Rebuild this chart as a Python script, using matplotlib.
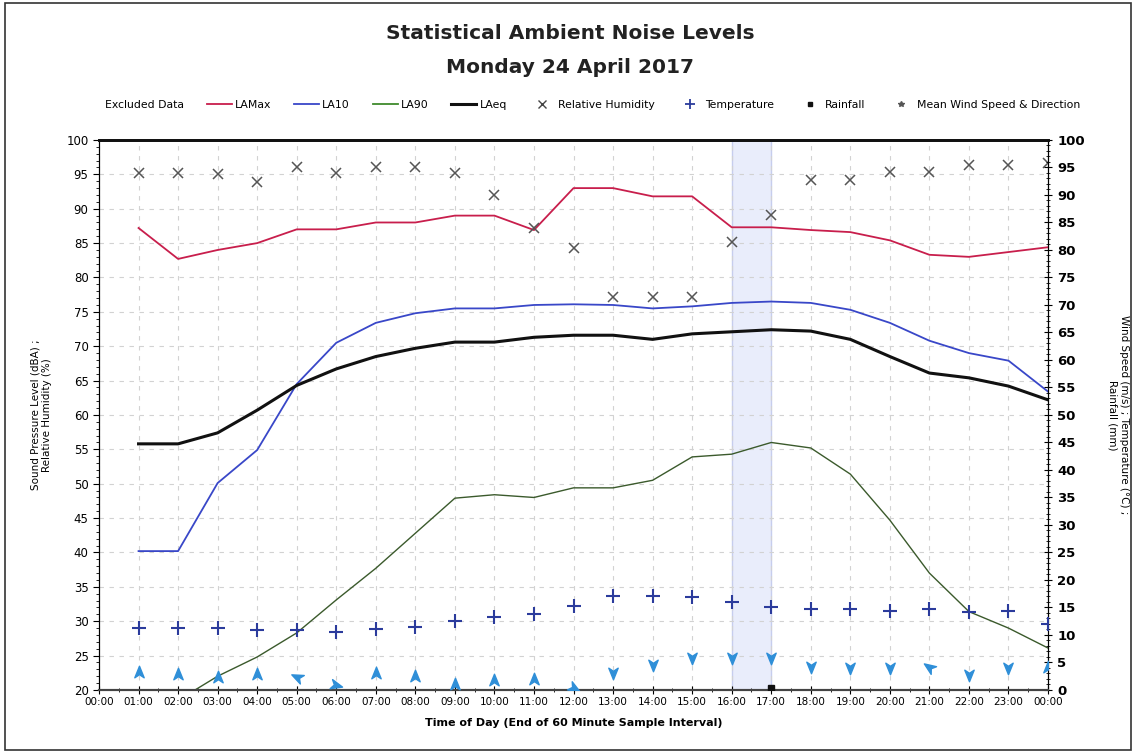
import matplotlib
matplotlib.use("Agg")
import matplotlib.pyplot as plt
import numpy as np
from matplotlib.lines import Line2D
from matplotlib.patches import Patch, Rectangle
from matplotlib.markers import MarkerStyle
from matplotlib.path import Path
from matplotlib.transforms import Affine2D
from matplotlib.ticker import MultipleLocator

# hour at end of each 60 minute interval (01:00 ... 24:00)
hours = list(range(1, 25))
hour_labels = ["%02d:00" % (h % 24) for h in range(25)]

la_max = [87.2, 82.7, 84.0, 85.0, 87.0, 87.0, 88.0, 88.0, 89.0, 89.0, 86.9, 93.0,
          93.0, 91.8, 91.8, 87.3, 87.3, 86.9, 86.6, 85.4, 83.3, 83.0, 83.7, 84.4]
la10 = [40.2, 40.2, 50.1, 54.9, 64.5, 70.5, 73.4, 74.8, 75.5, 75.5, 76.0, 76.1,
        76.0, 75.5, 75.8, 76.3, 76.5, 76.3, 75.3, 73.4, 70.8, 69.0, 67.9, 63.4]
la90 = [17.0, 18.5, 22.0, 24.8, 28.3, 33.1, 37.7, 42.8, 47.9, 48.4, 48.0, 49.4,
        49.4, 50.5, 53.9, 54.3, 56.0, 55.2, 51.4, 44.7, 37.0, 31.4, 29.0, 26.1]
la_eq = [55.8, 55.8, 57.4, 60.7, 64.3, 66.7, 68.5, 69.7, 70.6, 70.6, 71.3, 71.6,
         71.6, 71.0, 71.8, 72.1, 72.4, 72.2, 71.0, 68.5, 66.1, 65.4, 64.2, 62.2]
humidity = [95.2, 95.2, 95.1, 93.9, 96.1, 95.2, 96.0, 96.0, 95.2, 92.0, 87.2, 84.3,
            77.2, 77.2, 77.2, 85.2, 89.1, 94.2, 94.2, 95.3, 95.3, 96.4, 96.4, 96.6]
temperature = [11.3, 11.3, 11.3, 10.9, 10.9, 10.5, 11.0, 11.5, 12.5, 13.2, 13.9, 15.3,
               17.1, 17.1, 16.9, 16.0, 15.1, 14.8, 14.8, 14.4, 14.7, 14.2, 14.3, 12.0]
rainfall = [np.nan] * 16 + [0.3] + [np.nan] * 7
wind_speed = [3.3, 2.9, 2.4, 2.9, 2.4, 0.9, 3.1, 2.5, 1.1, 1.8, 2.0, 0.3,
              3.1, 4.5, 5.8, 5.8, 5.8, 4.2, 4.0, 4.0, 4.2, 2.7, 4.0, 4.2]
# direction the arrow points, degrees clockwise from up
wind_arrow = [0, 0, 0, 0, 295, 105, 0, 0, 0, 0, 0, 120,
              180, 180, 180, 180, 180, 180, 180, 180, 305, 180, 180, 0]
excluded = (16, 17)

fig = plt.figure(figsize=(11.34, 7.53), dpi=100)
ax1 = fig.add_axes([0.0873, 0.0837, 0.8369, 0.7304])
ax2 = ax1.twinx()

ax1.axvspan(excluded[0], excluded[1], color="#e9edfb", zorder=0, lw=0)
ax1.axvline(excluded[0], color="#c6cdee", lw=1, zorder=0)
ax1.axvline(excluded[1], color="#c6cdee", lw=1, zorder=0)

ax1.plot(hours, la_max, color="#c81e4c", lw=1.3, zorder=4)
ax1.plot(hours, la10, color="#3947c8", lw=1.3, zorder=4)
ax1.plot(hours, la90, color="#3b5a2c", lw=1.0, zorder=4)
ax1.plot(hours, la_eq, color="#111111", lw=2.2, zorder=4)
ax1.plot(hours, humidity, ls="none", marker="x", ms=7, mew=1.1, color="#555555", zorder=5)

ax2.plot(hours, temperature, ls="none", marker="+", ms=10, mew=1.5, color="#2b3b9c", zorder=5)
ax2.plot(hours, rainfall, ls="none", marker="s", ms=4, color="#111111", zorder=6)

arrow = Path([(0, 1), (0.75, -0.85), (0, -0.35), (-0.75, -0.85), (0, 1)],
             [Path.MOVETO, Path.LINETO, Path.LINETO, Path.LINETO, Path.CLOSEPOLY])
for h, s, a in zip(hours, wind_speed, wind_arrow):
    m = MarkerStyle(arrow, transform=Affine2D().rotate_deg(-a))
    ax2.plot([h], [s], ls="none", marker=m, ms=9, color="#2f8fd8", mec="#2f8fd8", zorder=6)

ax1.set_xlim(0, 24)
ax1.set_ylim(20, 100)
ax2.set_ylim(0, 100)
ax1.set_xticks(range(25))
ax1.set_xticklabels(hour_labels, fontsize=7.5)
ax1.xaxis.set_minor_locator(MultipleLocator(0.5))
ax1.yaxis.set_major_locator(MultipleLocator(5))
ax1.yaxis.set_minor_locator(MultipleLocator(1))
ax2.yaxis.set_major_locator(MultipleLocator(5))
ax2.yaxis.set_minor_locator(MultipleLocator(1))
ax1.tick_params(axis="y", labelsize=8.5, direction="out", length=4, width=0.8)
ax1.tick_params(axis="y", which="minor", length=2, width=0.6)
ax2.tick_params(axis="y", labelsize=9.5, direction="inout", length=6, width=0.8)
ax2.tick_params(axis="y", which="minor", direction="inout", length=3, width=0.6)
ax1.tick_params(axis="x", direction="inout", length=6, width=0.8, pad=2)
ax1.tick_params(axis="x", which="minor", direction="inout", length=3, width=0.6)
for lab in ax2.get_yticklabels():
    lab.set_fontweight("bold")

ax1.grid(True, which="major", color="#d2d2d2", ls=(0, (4, 5)), lw=0.8)
ax1.set_axisbelow(True)
for ax in (ax1, ax2):
    ax.spines["top"].set_linewidth(2.0)
    ax.spines["top"].set_color("#111111")
    ax.spines["bottom"].set_color("#444444")
    ax.spines["bottom"].set_linewidth(1.5)

ax1.set_ylabel("Sound Pressure Level (dBA) ;\nRelative Humidity (%)", fontsize=7.5, labelpad=10)
ax2.set_ylabel("Wind Speed (m/s) ; Temperature (°C) ;\nRainfall (mm)", fontsize=7.5,
               rotation=270, labelpad=32)
ax1.set_xlabel("Time of Day (End of 60 Minute Sample Interval)", fontsize=8, fontweight="bold", labelpad=8)

fig.text(0.503, 0.956, "Statistical Ambient Noise Levels", ha="center", va="center",
         fontsize=14.5, fontweight="bold", color="#222222")
fig.text(0.503, 0.910, "Monday 24 April 2017", ha="center", va="center",
         fontsize=14.5, fontweight="bold", color="#222222")

handles = [
    Patch(facecolor="none", edgecolor="none"),
    Line2D([], [], color="#c81e4c", lw=1.3),
    Line2D([], [], color="#3947c8", lw=1.3),
    Line2D([], [], color="#3f8a2c", lw=1.3),
    Line2D([], [], color="#111111", lw=2.2),
    Line2D([], [], ls="none", marker="x", ms=6, color="#444444"),
    Line2D([], [], ls="none", marker="+", ms=7, mew=1.3, color="#2b3b9c"),
    Line2D([], [], ls="none", marker="s", ms=3, color="#111111"),
    Line2D([], [], ls="none", marker="*", ms=4, color="#555555"),
]
labels = ["Excluded Data", "LAMax", "LA10", "LA90", "LAeq", "Relative Humidity",
          "Temperature", "Rainfall", "Mean Wind Speed & Direction"]
fig.legend(handles, labels, loc="center", bbox_to_anchor=(0.51, 0.861), ncol=9,
           frameon=False, fontsize=7.8, handlelength=2.3, handletextpad=0.3,
           columnspacing=2.1)

fig.patches.append(Rectangle((0.004, 0.004), 0.993, 0.992, transform=fig.transFigure,
                             fill=False, edgecolor="#333333", lw=1.2))

fig.savefig("out.png", dpi=100)
